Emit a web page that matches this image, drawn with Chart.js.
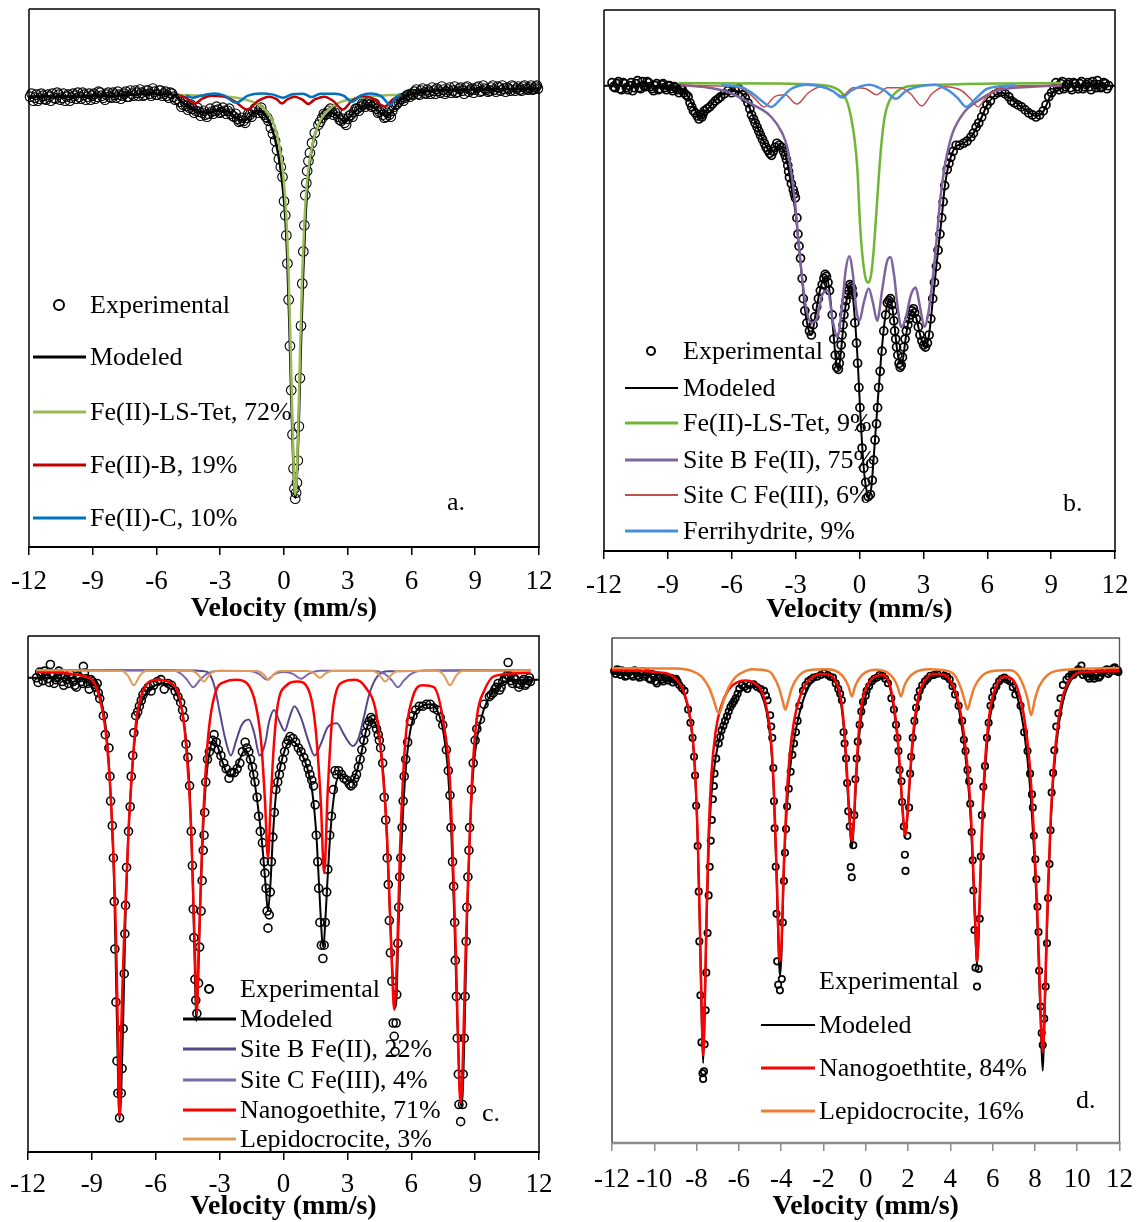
<!DOCTYPE html>
<html lang="en">
<head>
<meta charset="UTF-8">
<title>Mossbauer spectra a-d</title>
<script src="https://cdn.jsdelivr.net/npm/chart.js"></script>
<style>
    body{
        margin: 0;
        background: white;
        font-family: 'Liberation Serif', 'Times New Roman', serif;
    }
    #pagina{
        position: relative;
        width: 1146px;
        height: 1222px;
        overflow: hidden;
    }
    canvas{
        position: absolute;
    }
    .txt{
        position: absolute;
        font-size: 26px;
        line-height: 1;
        color: #000;
        white-space: nowrap;
        transform: translateY(-50%);
    }
    .traco{
        position: absolute;
        transform: translateY(-50%);
    }
    .bola{
        position: absolute;
        border: 2px solid #000;
        border-radius: 50%;
        box-sizing: border-box;
        transform: translate(-50%, -50%);
    }
</style>
</head>
<body>
<div id="pagina">
    <canvas id="graficoA" width="575" height="630" style="left:0;top:0"></canvas>
    <canvas id="graficoB" width="571" height="630" style="left:575px;top:0"></canvas>
    <canvas id="graficoC" width="575" height="592" style="left:0;top:630px"></canvas>
    <canvas id="graficoD" width="571" height="592" style="left:575px;top:630px"></canvas>
</div>
<script>
// ---------- panel a ----------
const expA = [[-11.95,99.8],[-11.8,99.6],[-11.65,99.9],[-11.5,99.7],[-11.35,99.85],[-11.2,99.65],[-11.05,99.8],[-10.9,99.95],[-10.75,99.7],[-10.6,99.9],[-10.45,99.75],[-10.3,99.6],[-10.15,99.9],[-10,99.75],[-9.85,99.85],[-9.7,100],[-9.55,99.7],[-9.4,99.9],[-9.25,99.8],[-9.1,99.65],[-8.95,99.95],[-8.8,99.8],[-8.65,100],[-8.5,99.75],[-8.35,99.9],[-8.2,99.8],[-8.05,100],[-7.9,99.75],[-7.75,99.9],[-7.6,99.85],[-7.45,100.05],[-7.3,99.8],[-7.15,99.95],[-7,100.1],[-6.85,99.85],[-6.7,100],[-6.55,99.9],[-6.4,100.1],[-6.25,99.85],[-6.1,100.05],[-5.95,99.9],[-5.8,100.1],[-5.65,99.95],[-5.5,99.85],[-5.35,100],[-5.2,99.8],[-5.05,99.7],
    [-4.9,99.55],[-4.75,99.4],[-4.6,99.35],[-4.45,99.25],[-4.3,99.2],[-4.15,99.1],[-4,99.05],[-3.85,99],[-3.7,98.9],[-3.55,98.95],[-3.4,99.05],[-3.25,99.1],[-3.1,99.15],[-2.95,99.05],[-2.8,99.1],[-2.65,99.1],[-2.5,98.95],[-2.35,98.8],[-2.2,98.7],[-2.05,98.6],[-1.9,98.6],[-1.75,98.75],[-1.6,98.9],[-1.45,99.05],[-1.3,99.2],[-1.15,99.15],[-1,99],[-0.85,98.8],[-0.73,98.6],[-0.62,98.25],[-0.52,97.95],[-0.42,97.6],[-0.33,97.15],[-0.24,96.7],[-0.15,96.3],[-0.07,95.8],[0,94.6],[0.06,93.9],[0.11,92.9],[0.16,91.5],[0.22,89.7],[0.28,87.4],[0.34,85.2],[0.4,83],[0.45,81.3],[0.49,80.3],[0.53,79.8],[0.57,80.1],[0.61,80.6],[0.65,81.7],[0.7,83.4],[0.75,85.8],[0.8,88.4],[0.86,90.5],[0.91,92.1],[0.96,93.4],[1,94.9],[1.05,95.5],[1.09,96.1],[1.15,96.6],[1.22,97],[1.32,97.5],[1.45,98],[1.62,98.4],[1.8,98.75],[1.95,98.9],[2.1,99.1],[2.25,99.05],[2.4,99],[2.55,98.8],[2.7,98.6],[2.85,98.5],[3,98.7],[3.15,98.9],[3.3,99.05],[3.45,99.2],[3.6,99.3],[3.75,99.4],[3.9,99.45],[4.05,99.4],[4.2,99.35],[4.35,99.2],[4.5,99.05],[4.65,98.9],[4.8,98.8],[4.95,98.9],[5.1,99.1],[5.25,99.4],[5.4,99.55],[5.55,99.7],[5.7,99.75],[5.85,99.9],[6,99.95],
    [6.15,100.05],[6.3,99.95],[6.45,100.1],[6.6,100],[6.75,100.15],[6.9,99.95],[7.05,100.1],[7.2,100.2],[7.35,100],[7.5,100.15],[7.65,100.05],[7.8,100.25],[7.95,100.1],[8.1,100],[8.25,100.2],[8.4,100.1],[8.55,100.25],[8.7,100.05],[8.85,100.2],[9,100.15],[9.15,100.3],[9.3,100.1],[9.45,100.2],[9.6,100.05],[9.75,100.25],[9.9,100.15],[10.05,100.3],[10.2,100.1],[10.35,100.2],[10.5,100.25],[10.65,100.1],[10.8,100.3],[10.95,100.2],[11.1,100.15],[11.25,100.3],[11.4,100.2],[11.55,100.25],[11.7,100.15],[11.85,100.3],[11.95,100.2],
    [-11.875,99.95],[-11.725,99.75],[-11.575,99.6],[-11.425,99.95],[-11.275,99.7],[-11.125,99.9],[-10.975,99.6],[-10.825,99.75],[-10.675,100],[-10.525,99.65],[-10.375,99.95],[-10.225,99.8],[-10.075,99.6],[-9.925,99.95],[-9.775,99.7],[-9.625,99.8],[-9.475,100],[-9.325,99.65],[-9.175,99.95],[-9.025,99.85],[-8.875,99.7],[-8.725,100.05],[-8.575,99.85],[-8.425,99.65],[-8.275,100],[-8.125,99.75],[-7.975,99.9],[-7.825,100.05],[-7.675,99.7],[-7.525,99.95],[-7.375,99.8],[-7.225,100.1],[-7.075,99.85],[-6.925,100],[-6.775,100.15],[-6.625,99.85],[-6.475,100.1],[-6.325,99.95],[-6.175,100.2],[-6.025,99.9],[-5.875,100.1],[-5.725,99.85],[-5.575,100.05],[-5.425,99.75],[-5.275,99.95],[-5.125,99.65],
    [-4.825,99.3],[-4.675,99.55],[-4.525,99.15],[-4.375,99.4],[-4.225,99],[-4.075,99.25],[-3.925,98.85],[-3.775,99.1],[-3.625,98.8],[-3.475,99.2],[-3.325,98.95],[-3.175,99.3],[-3.025,99],[-2.875,99.25],[-2.725,98.95],[-2.575,99.2],[-2.425,98.85],[-2.275,98.95],[-2.125,98.55],[-1.975,98.75],[-1.825,98.5],[-1.675,98.95],[-1.525,98.8],[-1.375,99.2],[-1.225,99],[-1.075,99.25],[-0.925,98.9],[-0.79,98.75],
    [1.7,98.55],[1.875,98.95],[2.025,98.95],[2.175,99.2],[2.325,98.9],[2.475,99.1],[2.625,98.65],[2.775,98.7],[2.925,98.4],[3.075,98.85],[3.225,98.8],[3.375,99.2],[3.525,99.1],[3.675,99.45],[3.825,99.3],[3.975,99.55],[4.125,99.3],[4.275,99.45],[4.425,99],[4.575,99.15],[4.725,98.75],[4.875,99],[5.025,98.8],[5.175,99.3],[5.325,99.45],[5.475,99.7],[5.625,99.6],[5.775,99.85],[5.925,99.8],
    [6.075,99.9],[6.225,100.15],[6.375,99.9],[6.525,100.2],[6.675,99.95],[6.825,100.05],[6.975,100.25],[7.125,99.95],[7.275,100.1],[7.425,100.3],[7.575,99.95],[7.725,100.15],[7.875,100],[8.025,100.3],[8.175,100.05],[8.325,100.25],[8.475,99.95],[8.625,100.3],[8.775,100.15],[8.925,100],[9.075,100.25],[9.225,100.05],[9.375,100.35],[9.525,100.15],[9.675,100.1],[9.825,100.35],[9.975,100.05],[10.125,100.25],[10.275,100.35],[10.425,100.05],[10.575,100.2],[10.725,100.35],[10.875,100.1],[11.025,100.3],[11.175,100.1],[11.325,100.35],[11.475,100.15],[11.625,100.35],[11.775,100.2],[11.9,100.35]];
const modA = [[-12,99.8],[-8,99.85],[-6,99.95],[-5.2,99.9],[-4.9,99.6],[-4.5,99.3],[-4.2,99.15],[-3.8,99],[-3.5,99],[-3.2,99.1],[-2.9,99.1],[-2.6,99.05],[-2.3,98.8],[-2,98.62],[-1.8,98.65],[-1.5,98.95],[-1.25,99.1],[-1,99],[-0.8,98.75],[-0.6,98.3],[-0.4,97.6],[-0.2,96.5],[-0.05,95.2],[0.05,94],[0.15,91.9],[0.25,88.6],[0.35,84.6],[0.45,81.2],[0.53,79.85],[0.6,80.8],[0.7,83.8],[0.8,87.6],[0.9,91],[1,93.6],[1.1,95.3],[1.25,96.8],[1.45,97.9],[1.7,98.5],[2,98.9],[2.3,99],[2.6,98.75],[2.85,98.55],[3.1,98.8],[3.5,99.2],[3.9,99.4],[4.3,99.25],[4.6,98.95],[4.85,98.85],[5.1,99.1],[5.4,99.55],[5.8,99.85],[6.5,100.05],[9,100.15],[12,100.2]];
const lsTetA = [[-4.9,99.88],[-3.5,99.84],[-2.5,99.78],[-2,99.7],[-1.5,99.55],[-1,99.25],[-0.6,98.75],[-0.35,98],[-0.15,96.9],[0,95.5],[0.1,94],[0.2,91.6],[0.3,87.9],[0.4,83.6],[0.48,80.6],[0.53,80],[0.58,80.5],[0.66,83],[0.76,87.3],[0.86,91],[0.96,93.6],[1.08,95.5],[1.2,96.6],[1.4,97.7],[1.7,98.6],[2.1,99.15],[2.6,99.5],[3.3,99.7],[4.2,99.82],[5.5,99.9]];
const fe2bA = [[-4.9,99.86],[-4.55,99.7],[-4.2,99.45],[-3.85,99.7],[-3.4,99.84],[-2.8,99.8],[-2.3,99.55],[-1.74,99.16],[-1.2,99.6],[-0.7,99.8],[-0.35,99.68],[-0.1,99.46],[0.15,99.66],[0.5,99.8],[0.85,99.66],[1.15,99.44],[1.45,99.66],[1.9,99.8],[2.3,99.6],[2.77,99.16],[3.2,99.6],[3.7,99.82],[4.2,99.7],[4.73,99.3],[5.1,99.65],[5.5,99.86]];
const fe2cA = [[-4.6,99.86],[-4.3,99.75],[-3.9,99.85],[-3.3,99.96],[-2.8,99.85],[-2.25,99.5],[-1.7,99.85],[-1.1,99.96],[-0.5,99.9],[-0.05,99.75],[0.4,99.92],[0.9,99.95],[1.3,99.78],[1.7,99.95],[2.4,99.95],[2.8,99.85],[3.2,99.55],[3.6,99.85],[4.1,99.96],[4.6,99.8],[5,99.4],[5.3,99.8],[5.5,99.88]];

// ---------- panel b ----------
const expB = [[-11.55,99.9],[-11.4,100.05],[-11.25,99.8],[-11.1,100.1],[-10.95,99.85],[-10.8,99.95],[-10.65,99.7],[-10.5,100.05],[-10.35,99.85],[-10.2,100.15],[-10.05,99.9],[-9.9,100.1],[-9.75,99.8],[-9.6,99.95],[-9.45,99.75],[-9.3,100],[-9.15,99.85],[-9,99.95],[-8.85,99.8],[-8.7,99.9],[-8.55,99.75],[-8.4,99.8],[-8.25,99.6],
    [-8.05,99.4],[-7.88,98.9],[-7.71,98.6],[-7.54,98.3],[-7.4,98.4],[-7.29,98.7],[-7.03,98.9],[-6.77,99.2],[-6.52,99.4],[-6.18,99.7],[-5.84,99.7],[-5.5,99.5],[-5.24,99.1],[-5.07,98.5],[-4.9,98.1],[-4.73,97.7],[-4.56,97.3],[-4.39,96.9],[-4.22,96.6],[-4.05,96.7],[-3.88,97.1],[-3.66,96.9],[-3.49,96.5],[-3.37,96],[-3.29,95.4],[-3.11,94.8],[-3.01,94.4],[-2.94,93.4],[-2.89,92.6],[-2.84,92],[-2.77,91.4],[-2.69,90.4],[-2.64,89.4],[-2.57,88.8],[-2.47,88.2],[-2.35,87.8],[-2.26,87.6],[-2.18,88.1],[-2.01,89],[-1.84,89.8],[-1.67,90.4],[-1.55,90.5],[-1.41,89.8],[-1.28,88.6],[-1.21,87.4],[-1.14,86.6],[-1.07,86],[-0.99,85.9],[-0.9,86.6],[-0.82,87.6],[-0.73,88.6],[-0.63,89.3],[-0.51,89.8],[-0.39,90],[-0.31,89.6],[-0.22,88.2],[-0.14,87.2],[-0.09,86.2],[-0.03,85],[0.02,84],[0.07,83],[0.12,82],[0.2,81],[0.29,80.3],[0.41,79.6],[0.51,79.7],[0.6,80.4],[0.66,81.4],[0.73,82.4],[0.8,83.2],[0.85,84],[0.9,85],[0.97,85.8],[1.06,86.8],[1.14,87.8],[1.23,88.6],[1.31,89.2],[1.45,89.4],[1.57,88.8],[1.65,87.8],[1.74,87],[1.86,86.2],[1.96,86.1],[2.08,87],[2.2,87.8],[2.33,88.4],[2.47,88.8],[2.59,88.7],[2.76,88],[2.93,87.3],[3.1,87],[3.27,87.6],[3.35,88.4],[3.44,89.4],[3.52,90.2],[3.61,91],[3.69,91.8],[3.78,92.6],[3.86,93.4],[3.93,94.2],[4,95],[4.12,95.8],[4.29,96.4],[4.54,97],[4.89,97.1],[5.23,97.4],[5.48,97.9],[5.74,98.4],[5.99,99],[6.33,99.5],[6.67,99.65],[7.01,99.4],[7.27,99.1],[7.61,98.9],[7.95,98.6],[8.29,98.4],[8.63,98.7],[8.89,99.4],[9.14,99.8],
    [9.3,99.9],[9.45,100.05],[9.6,99.8],[9.75,100],[9.9,99.85],[10.05,100.1],[10.2,99.9],[10.35,100.05],[10.5,99.8],[10.65,100],[10.8,99.9],[10.95,100.15],[11.1,99.85],[11.25,100],[11.4,99.9],[11.55,100.05],[11.7,99.95],
    [-11.625,100.1],[-11.475,99.85],[-11.325,100.15],[-11.175,99.75],[-11.025,100.05],[-10.875,99.75],[-10.725,100.1],[-10.575,99.85],[-10.425,100.2],[-10.275,99.8],[-10.125,99.95],[-9.975,100.15],[-9.825,99.9],[-9.675,99.7],[-9.525,100.05],[-9.375,99.8],[-9.225,100.05],[-9.075,99.75],[-8.925,99.95],[-8.775,99.7],[-8.625,99.85],[-8.475,99.6],[-8.325,99.75],[-8.15,99.5],
    [-7.96,99.1],[-7.8,98.7],[-7.62,98.45],[-7.47,98.5],[-7.35,98.55],[-7.16,98.8],[-6.9,99.05],[-6.64,99.3],[-6.35,99.55],[-6.01,99.6],[-5.67,99.8],[-5.37,99.35],[-5.15,98.8],[-4.98,98.3],[-4.81,97.9],[-4.65,97.5],[-4.47,97.1],[-4.3,96.75],[-4.13,96.5],[-3.96,96.9],[-3.77,97],[-3.57,96.7],[-3.43,96.3],[-3.33,95.7],[-3.2,95.1],[-3.06,94.6],
    [-2.1,88.5],[-1.93,89.4],[-1.75,90.1],[-1.61,90.6],[-1.48,90.2],[-0.95,86.2],[-0.86,87.1],[-0.77,88.1],[-0.68,89],[-0.57,89.6],[-0.45,90.1],[-0.35,89.9],[1.38,89.3],[1.51,89.1],[1.61,88.3],[1.7,87.4],[1.8,86.6],[1.91,86],[2.02,86.5],[2.14,87.4],[2.27,88.1],[2.4,88.6],[2.53,88.9],[2.67,88.4],[2.84,87.6],[3.01,87.1],[3.19,87.2],
    [4.2,96.1],[4.4,96.7],[4.7,97],[5.05,97.2],[5.35,97.6],[5.6,98.1],[5.86,98.7],[6.15,99.2],[6.5,99.6],[6.84,99.55],[7.14,99.2],[7.44,99],[7.78,98.75],[8.12,98.5],[8.46,98.5],[8.76,99],[9.02,99.6],
    [9.225,100.1],[9.375,99.75],[9.525,100.15],[9.675,99.9],[9.825,100.1],[9.975,99.75],[10.125,100.05],[10.275,99.8],[10.425,100.15],[10.575,99.9],[10.725,100.1],[10.875,99.75],[11.025,100],[11.175,100.2],[11.325,99.85],[11.475,100.1],[11.625,99.8]];
const modB = [[-12,99.95],[-8.5,99.9],[-8.1,99.5],[-7.8,98.9],[-7.5,98.4],[-7.2,98.7],[-6.8,99.2],[-6.3,99.6],[-5.8,99.7],[-5.4,99.4],[-5.1,98.7],[-4.8,97.9],[-4.5,97.2],[-4.2,96.7],[-4,96.75],[-3.8,97],[-3.6,96.8],[-3.4,96.2],[-3.2,95],[-3,93.6],[-2.85,92],[-2.7,90.4],[-2.55,88.8],[-2.4,87.9],[-2.26,87.6],[-2.1,88.4],[-1.9,89.6],[-1.7,90.4],[-1.55,90.5],[-1.4,89.7],[-1.25,88],[-1.1,86.3],[-0.99,85.9],[-0.85,87],[-0.7,88.7],[-0.5,89.8],[-0.38,90],[-0.25,88.8],[-0.1,86.6],[0.05,83.5],[0.2,81],[0.35,79.8],[0.45,79.6],[0.55,80],[0.7,82],[0.85,84.2],[1,86.3],[1.15,88],[1.3,89.1],[1.45,89.4],[1.6,88.5],[1.75,87],[1.9,86.2],[2,86.2],[2.15,87.3],[2.3,88.3],[2.47,88.8],[2.65,88.5],[2.85,87.6],[3.05,87],[3.25,87.5],[3.45,89.4],[3.65,91.4],[3.85,93.3],[4,94.9],[4.2,96.1],[4.5,96.9],[4.9,97.1],[5.3,97.5],[5.7,98.3],[6,99],[6.4,99.5],[6.7,99.6],[7.1,99.3],[7.6,98.9],[8,98.6],[8.3,98.45],[8.65,98.7],[8.95,99.4],[9.3,99.85],[12,99.95]];
const lsTetB = [[-8.5,100.08],[-4,100.06],[-2,100],[-1,99.75],[-0.6,99.2],[-0.4,98.4],[-0.22,97.2],[-0.1,95.8],[0.03,93],[0.15,91.4],[0.29,90.4],[0.41,90.2],[0.53,90.5],[0.65,91.6],[0.8,93.8],[0.93,95.8],[1.06,97.4],[1.2,98.5],[1.4,99.2],[1.8,99.7],[2.5,99.95],[9.5,100.08]];
const siteBB = [[-8.39,100],[-6.35,99.7],[-4.99,99],[-4.14,98.4],[-3.63,97.6],[-3.37,96.8],[-3.2,95.6],[-3.03,94.2],[-2.86,92.2],[-2.69,90.4],[-2.52,89],[-2.26,88.2],[-2.01,88.4],[-1.75,89.6],[-1.5,89.8],[-1.24,88.2],[-1.04,87.5],[-0.82,89],[-0.65,90.8],[-0.48,91.5],[-0.31,90.6],[-0.14,88.8],[0,88.3],[0.2,89.2],[0.43,89.9],[0.63,89.2],[0.83,88.3],[1.06,89.8],[1.28,91.2],[1.45,91.45],[1.62,90.6],[1.79,89],[1.96,88],[2.16,88.4],[2.42,89.6],[2.64,89.95],[2.84,89],[3.05,88],[3.22,88.6],[3.44,90.4],[3.61,92.2],[3.78,94.2],[3.95,95.6],[4.12,96.6],[4.37,97.6],[4.89,98.6],[5.57,99.2],[6.42,99.7],[8.12,99.9],[9.48,99.96]];
const siteCB = [[-8.4,99.96],[-6.5,99.94],[-5.5,99.8],[-4.9,99.3],[-4.48,98.9],[-4,99.4],[-3.5,99.5],[-2.94,99.04],[-2.4,99.6],[-1.8,99.9],[-1.3,99.7],[-0.82,99.44],[-0.3,99.85],[0.3,99.8],[0.8,99.5],[1.3,99.85],[1.9,99.85],[2.4,99.55],[2.93,98.95],[3.4,99.55],[4,99.9],[4.8,99.7],[5.3,99.2],[5.57,98.9],[5.9,99.3],[6.5,99.8],[7.5,99.95],[9.5,99.96]];
const ferriB = [[-6.5,99.97],[-5.6,99.9],[-5,99.55],[-4.6,99.2],[-4.14,98.9],[-3.7,99.3],[-3.2,99.8],[-2.43,100],[-1.6,99.85],[-1.2,99.65],[-0.82,99.36],[-0.4,99.7],[0.46,100],[1.2,99.7],[1.7,99.3],[2.2,99.7],[3.52,100],[4.2,99.7],[4.6,99.35],[5.02,98.9],[5.45,99.3],[6,99.8],[7.3,99.97]];

// ---------- panel c ----------
const expC = [[-11.6,99.6],[-11.45,99.9],[-11.3,99.45],[-11.15,99.75],[-11,99.35],[-10.95,100.3],[-10.85,99.8],[-10.7,99.5],[-10.55,99.95],[-10.4,99.4],[-10.25,99.65],[-10.1,99.3],[-9.95,99.55],[-9.8,99.2],[-9.65,99.7],[-9.5,99.4],[-9.4,100.2],[-9.35,99.85],[-9.2,99.3],[-9.05,99.5],[-8.9,99.25],[-8.75,99.3],
    [-8.63,98.5],[-8.46,97.6],[-8.37,96.6],[-8.2,95.9],[-8.15,94.4],[-8.12,93.1],[-8.04,91.8],[-7.99,90.1],[-7.95,87.8],[-7.92,85.3],[-7.87,82.5],[-7.82,79.4],[-7.78,77.7],[-7.7,76.4],[-7.62,77.7],[-7.58,79],[-7.53,81.1],[-7.48,84],[-7.45,86.1],[-7.42,87.6],[-7.37,89.6],[-7.28,91.5],[-7.2,92.8],[-7.15,94.4],[-7.08,95.5],[-7.03,96.7],[-6.94,97.6],[-6.77,98.1],[-6.6,98.7],[-6.35,99.1],[-6.1,99.2],[-5.76,99.5],[-5.42,99.3],[-5.09,98.9],[-4.83,98.3],[-4.66,97.5],[-4.58,96.1],[-4.49,95.4],[-4.41,93.9],[-4.33,91.5],[-4.28,89.7],[-4.24,87.4],[-4.21,85.9],[-4.16,83.7],[-4.12,82.6],[-4.07,81.9],[-3.99,83.5],[-3.94,85.4],[-3.87,87.3],[-3.82,88.9],[-3.77,90.5],[-3.73,91.3],[-3.7,92.5],[-3.65,94.1],[-3.57,95.3],[-3.4,96],[-3.26,96.6],[-3.06,95.8],[-2.81,95.1],[-2.56,94.3],[-2.31,94.6],[-2.05,95.1],[-1.8,96.2],[-1.63,95.7],[-1.46,94.9],[-1.34,94.1],[-1.24,93.3],[-1.17,92.3],[-1.09,91.5],[-0.99,90.9],[-0.9,89.9],[-0.87,89.3],[-0.82,88.5],[-0.77,87.3],[-0.73,86.4],[-0.67,87.1],[-0.62,88.3],[-0.57,89.9],[-0.5,91.2],[-0.43,92.5],[-0.36,93.7],[-0.19,94.5],[-0.03,95.3],[0.14,96.1],[0.31,96.5],[0.57,96.2],[0.82,95.7],[1.07,95.1],[1.24,94.5],[1.41,93.9],[1.49,92.9],[1.54,91.3],[1.61,89.9],[1.65,88.5],[1.71,86.7],[1.78,85.5],[1.85,84.8],[1.91,85.5],[1.96,86.7],[2.03,88.3],[2.08,89.5],[2.17,91.3],[2.25,92.3],[2.34,93.7],[2.42,94.7],[2.59,94.7],[2.84,94.3],[3.09,94],[3.26,94],[3.43,94.5],[3.6,95.3],[3.77,96.3],[3.94,97.1],[4.11,97.5],[4.28,97.2],[4.45,96.6],[4.56,95.9],[4.66,95.1],[4.73,93.3],[4.8,92.1],[4.87,90.1],[4.92,88.7],[4.97,86.8],[5.02,85.1],[5.09,83.6],[5.15,81.4],[5.2,80.7],[5.24,79.9],[5.29,81.4],[5.32,82.9],[5.37,85.6],[5.41,87.5],[5.46,89.1],[5.51,90.1],[5.57,91.7],[5.62,93.1],[5.67,94.4],[5.74,95.3],[5.83,96.2],[5.96,97.3],[6.21,97.9],[6.55,98.1],[6.89,98.2],[7.23,97.9],[7.48,97.1],[7.65,95.8],[7.74,94.7],[7.82,93.4],[7.87,91.7],[7.94,89.9],[7.99,88.6],[8.04,86.7],[8.07,84.7],[8.12,82.8],[8.16,80.6],[8.21,78.7],[8.24,77.1],[8.32,76.2],[8.41,77.1],[8.44,78.7],[8.49,80.6],[8.53,82.8],[8.58,85.7],[8.61,87.5],[8.66,89.1],[8.71,90.5],[8.74,91.7],[8.83,93.7],[8.91,95.1],[9,96.3],[9.08,96.9],[9.25,97.4],[9.42,98.2],[9.67,98.6],
    [9.85,98.8],[10,99.1],[10.15,98.95],[10.3,99.4],[10.45,99.6],[10.55,100.4],[10.6,99.7],[10.75,99.3],[10.9,99.5],[11.05,99.1],[11.2,99.4],[11.35,99.2],[11.5,99.45],[11.6,99.4],
    [-11.525,99.35],[-11.375,99.7],[-11.225,99.95],[-11.075,99.55],[-10.925,99.8],[-10.775,99.3],[-10.625,99.6],[-10.475,99.75],[-10.325,99.2],[-10.175,99.5],[-10.025,99.8],[-9.875,99.4],[-9.725,99.1],[-9.575,99.6],[-9.425,99.3],[-9.275,99.55],[-9.125,99],[-8.975,99.4],[-8.825,99.1],[-8.7,98.8],
    [-6.85,97.8],[-6.68,98.4],[-6.48,98.9],[-6.22,98.9],[-5.93,99.4],[-5.6,99],[-5.26,99.2],[-4.96,98.6],[-4.74,97.9],
    [-3.48,95.7],[-3.33,96.3],[-3.16,96.2],[-2.94,95.5],[-2.69,94.8],[-2.44,94.6],[-2.18,94.8],[-1.93,95.7],[-1.72,95.9],[-1.55,95.3],[-1.4,94.5],
    [-0.27,94.1],[-0.11,94.9],[0.05,95.7],[0.22,96.3],[0.44,96.4],[0.7,95.9],[0.95,95.4],[1.16,94.8],[1.33,94.2],
    [2.5,94.5],[2.72,94.5],[2.97,94.2],[3.17,93.9],[3.35,94.3],[3.52,94.9],[3.68,95.8],[3.86,96.7],[4.02,97.3],[4.2,97.4],[4.37,96.9],[4.5,96.3],
    [6.08,97.6],[6.38,98.1],[6.72,98.2],[7.06,98],[7.36,97.5],
    [9.75,98.7],[9.93,99],[10.08,99.3],[10.22,99.1],[10.38,99.55],[10.52,99.75],[10.68,99.45],[10.82,99.6],[10.98,99.3],[11.12,99.25],[11.28,99.5],[11.42,99.3],[11.55,99.6]];
const modC = [[-12,99.6],[-9,99.5],[-8.6,98.6],[-8.3,96.5],[-8.1,93],[-7.95,88.5],[-7.85,83],[-7.75,77.5],[-7.7,76.3],[-7.62,77.8],[-7.52,82],[-7.42,87],[-7.3,91],[-7.15,94],[-7,96.2],[-6.8,97.8],[-6.5,98.7],[-6.1,99.15],[-5.7,99.3],[-5.3,99.2],[-5,98.7],[-4.75,97.8],[-4.55,96],[-4.4,93.5],[-4.28,89.5],[-4.18,85],[-4.1,81.5],[-4,84],[-3.9,88],[-3.78,91.5],[-3.65,94],[-3.5,95.5],[-3.3,96.3],[-3.1,96],[-2.85,95.1],[-2.55,94.4],[-2.3,94.6],[-2.05,95.3],[-1.8,95.8],[-1.6,95.4],[-1.4,94.4],[-1.2,92.8],[-1,90.8],[-0.85,88.8],[-0.73,87.3],[-0.62,88.6],[-0.5,91.2],[-0.35,93.5],[-0.15,94.9],[0.1,95.9],[0.35,96.3],[0.6,96.1],[0.85,95.6],[1.1,94.9],[1.35,93.6],[1.55,91.2],[1.7,88],[1.82,85.7],[1.88,85.4],[1.95,86.5],[2.05,88.6],[2.2,91.4],[2.4,93.6],[2.65,94.5],[2.9,94.3],[3.15,94.1],[3.4,94.5],[3.65,95.6],[3.9,96.9],[4.15,97.4],[4.4,96.9],[4.6,95.6],[4.78,93],[4.95,88.5],[5.1,84.5],[5.22,82.2],[5.3,82.6],[5.4,86.5],[5.52,90.2],[5.68,93.8],[5.85,96],[6.1,97.5],[6.5,98.1],[6.9,98.2],[7.25,97.8],[7.5,96.8],[7.7,95],[7.88,91.5],[8.02,87],[8.15,82],[8.27,78.2],[8.34,77],[8.42,77.8],[8.52,81.8],[8.62,86.8],[8.75,91.3],[8.9,94.5],[9.1,96.5],[9.4,97.9],[9.8,98.8],[10.4,99.4],[12,99.5]];
const siteBC = [[-11.6,100],[-4.2,99.98],[-3.57,99.9],[-3.23,99.1],[-2.98,97.7],[-2.72,96.3],[-2.47,95.5],[-2.22,96.3],[-1.97,97.1],[-1.63,97.4],[-1.38,96.7],[-1.12,95.5],[-0.87,96.1],[-0.67,97.3],[-0.45,97.9],[-0.19,97.3],[0.06,96.8],[0.28,97.5],[0.51,98.1],[0.82,97.5],[1.16,96.3],[1.46,95.5],[1.75,96.1],[2.08,97],[2.51,97.2],[2.84,96.6],[3.26,96],[3.52,96.4],[3.77,97.5],[4.02,98.7],[4.36,99.6],[4.87,99.94],[11.6,100]];
const siteCC = [[-11.6,100],[-5.2,99.98],[-4.8,99.8],[-4.5,99.45],[-4.24,99.1],[-3.95,99.45],[-3.6,99.8],[-3,99.97],[-1.6,99.95],[-1.15,99.8],[-0.78,99.5],[-0.4,99.8],[0,99.9],[0.45,99.8],[0.82,99.54],[1.2,99.82],[1.7,99.97],[4.2,99.97],[4.75,99.8],[5.1,99.45],[5.37,99.1],[5.65,99.45],[6,99.8],[6.6,99.98],[11.6,100]];
const goetC = [[-11.58,99.9],[-9.13,99.6],[-8.63,98.5],[-8.29,96.1],[-8.04,91.7],[-7.87,86.1],[-7.78,81.1],[-7.7,76.5],[-7.62,81.1],[-7.48,86.1],[-7.28,91.5],[-6.94,97.1],[-6.6,98.9],[-5.93,99.5],[-5.25,99.3],[-4.83,98.3],[-4.58,96.1],[-4.33,91.5],[-4.16,85.1],[-4.07,81.9],[-3.99,85.1],[-3.82,90.9],[-3.57,96.1],[-3.23,98.7],[-2.72,99.4],[-2.22,99.5],[-1.71,99.3],[-1.29,98.1],[-1.04,96.1],[-0.87,93.1],[-0.73,90.1],[-0.6,93.1],[-0.45,96.1],[-0.28,98.1],[0.14,99.2],[0.65,99.4],[1.16,99],[1.49,97.1],[1.75,93.1],[1.91,89.3],[2.08,93.7],[2.34,98.1],[2.84,99.4],[3.35,99.5],[3.85,99.1],[4.36,97.7],[4.61,95.3],[4.87,91.1],[5.07,85.1],[5.2,82.1],[5.34,85.1],[5.46,90.1],[5.71,96.1],[6.05,98.5],[6.55,99.2],[7.06,99.1],[7.56,96.9],[7.82,94.1],[8.07,86.1],[8.32,77.2],[8.58,86.1],[8.83,93.7],[9.08,97.5],[9.42,98.9],[9.93,99.7],[11.61,99.86]];
const lepiC = [[-11.6,100],[-7.6,99.95],[-7.3,99.7],[-7.03,99.2],[-6.75,99.7],[-6.45,99.95],[-4.3,99.95],[-4,99.75],[-3.74,99.4],[-3.48,99.75],[-3.2,99.95],[-1.25,99.96],[-0.95,99.8],[-0.7,99.5],[-0.45,99.8],[-0.15,99.96],[1.15,99.96],[1.45,99.82],[1.71,99.6],[1.97,99.82],[2.27,99.96],[4.2,99.95],[4.5,99.75],[4.78,99.4],[5.06,99.75],[5.35,99.95],[7.25,99.95],[7.55,99.7],[7.82,99.2],[8.1,99.7],[8.4,99.95],[11.6,100]];

// ---------- panel d ----------
const expD = [[-11.9,99.9],[-11.75,100],[-11.6,99.7],[-11.45,99.85],[-11.3,99.65],[-11.15,99.9],[-11,99.6],[-10.85,99.8],[-10.7,99.55],[-10.55,99.9],[-10.4,99.7],[-10.25,99.5],[-10.1,99.75],[-9.95,99.35],[-9.8,99.6],[-9.65,99.45],[-9.5,99.6],[-9.35,99.4],[-9.2,99.55],[-9.05,99.45],[-8.9,99.35],
    [-8.82,99.16],[-8.57,98.86],[-8.4,97.86],[-8.29,97.16],[-8.19,96.36],[-8.12,95.36],[-8.07,94.36],[-8.02,92.76],[-7.95,90.62],[-7.9,88.2],[-7.87,85.56],[-7.82,82.7],[-7.77,80.2],[-7.72,78.56],[-7.69,78.26],[-7.65,78.66],[-7.62,80.1],[-7.57,81.9],[-7.54,83.9],[-7.48,86],[-7.43,88],[-7.38,89.52],[-7.33,90.9],[-7.28,92],[-7.23,93.1],[-7.18,93.8],[-7.15,94.46],[-7.07,95.26],[-6.95,96.06],[-6.82,96.76],[-6.65,97.26],[-6.48,97.76],[-6.31,98.16],[-6.15,98.46],[-5.98,98.96],[-5.73,99.06],[-5.48,99.16],[-5.14,99.06],[-4.81,98.86],[-4.64,98.36],[-4.52,97.56],[-4.47,96.96],[-4.42,96.36],[-4.37,94.76],[-4.34,93],[-4.31,91.56],[-4.26,89.52],[-4.22,87.02],[-4.19,84.5],[-4.14,83.26],[-4.06,82.96],[-3.97,83.56],[-3.92,86.56],[-3.87,88.76],[-3.82,90.26],[-3.77,91.52],[-3.72,92.72],[-3.64,93.66],[-3.55,94.56],[-3.47,95.46],[-3.39,96.06],[-3.3,96.66],[-3.22,97.26],[-3.14,98.06],[-2.97,98.86],[-2.72,99.36],[-2.47,99.56],[-2.13,99.7],[-1.8,99.7],[-1.55,99.56],[-1.3,98.96],[-1.13,98.36],[-1.05,96.66],[-1,96.06],[-0.93,95.26],[-0.88,93.96],[-0.83,92.46],[-0.76,91.66],[-0.71,89.5],[-0.66,88.96],[-0.59,90.66],[-0.54,92.26],[-0.49,94.16],[-0.43,95.26],[-0.38,96.16],[-0.29,97.06],[-0.21,97.76],[-0.13,98.26],[0.04,98.86],[0.29,99.36],[0.54,99.56],[0.79,99.66],[1.05,99.26],[1.21,98.46],[1.33,97.86],[1.43,97.06],[1.5,96.36],[1.55,95.66],[1.6,94.66],[1.69,94.06],[1.72,92.96],[1.8,91.66],[1.85,90.16],[1.88,89.3],[1.97,91.16],[2.05,92.66],[2.1,94.46],[2.15,95.36],[2.22,96.36],[2.3,97.26],[2.38,97.96],[2.55,98.86],[2.8,99.36],[3.05,99.66],[3.39,99.76],[3.72,99.66],[3.97,99.46],[4.22,98.66],[4.39,98.06],[4.56,97.26],[4.64,96.26],[4.72,95.66],[4.81,94.66],[4.89,94.06],[4.94,92.86],[5.01,91.36],[5.06,89.86],[5.09,88.26],[5.14,86.16],[5.19,84.16],[5.26,83.16],[5.34,84.1],[5.39,86.76],[5.44,90.06],[5.49,92.26],[5.56,93.76],[5.64,94.86],[5.73,96.36],[5.81,97.16],[5.9,98.06],[6.06,98.86],[6.31,99.36],[6.56,99.56],[6.82,99.36],[7.07,98.66],[7.32,98.06],[7.49,96.66],[7.65,95.66],[7.77,94.46],[7.86,93.36],[7.9,92.66],[7.95,91.16],[8.02,89.92],[8.07,88.86],[8.12,87.4],[8.17,86.06],[8.2,84],[8.27,82.1],[8.32,80.7],[8.37,80.06],[8.44,81.46],[8.51,83.16],[8.57,85.46],[8.62,87.86],[8.69,89.66],[8.74,91.46],[8.79,93.46],[8.86,94.5],[8.92,95.7],[9.01,96.96],[9.11,97.66],[9.21,98.46],[9.32,99.16],[9.49,99.46],[9.74,99.76],
    [9.9,99.8],[10.05,100],[10.2,100.2],[10.35,99.85],[10.5,99.6],[10.65,99.75],[10.8,99.5],[10.95,99.8],[11.1,99.65],[11.25,99.9],[11.4,100],[11.55,99.85],[11.7,100.05],[11.85,99.9],[11.95,99.85],
    [-11.825,99.75],[-11.675,99.85],[-11.525,99.95],[-11.375,99.6],[-11.225,99.8],[-11.075,99.7],[-10.925,99.95],[-10.775,99.65],[-10.625,99.75],[-10.475,99.6],[-10.325,99.8],[-10.175,99.45],[-10.025,99.6],[-9.875,99.25],[-9.725,99.55],[-9.575,99.35],[-9.425,99.5],[-9.275,99.55],[-9.125,99.3],[-8.975,99.5],[-8.7,99],
    [-6.88,96.4],[-6.73,97],[-6.56,97.5],[-6.4,98],[-6.23,98.3],[-6.06,98.7],[-5.85,99.15],[-5.6,98.95],[-5.3,99.2],[-4.97,98.95],[-4.72,98.6],
    [-2.85,99.15],[-2.6,99.45],[-2.3,99.6],[-1.97,99.8],[-1.68,99.6],[-1.42,99.25],[-1.21,98.7],
    [0,98.6],[0.16,99.1],[0.41,99.5],[0.66,99.7],[0.92,99.5],
    [2.46,98.5],[2.67,99.15],[2.92,99.5],[3.22,99.7],[3.55,99.8],[3.85,99.6],[4.1,99.1],
    [5.98,98.5],[6.18,99.1],[6.43,99.5],[6.69,99.45],[6.95,99.05],
    [9.6,99.6],[9.82,99.7],[9.97,99.85],[10.12,99.95],[10.27,99.7],[10.42,99.75],[10.57,99.5],[10.72,99.6],[10.87,99.7],[11.02,99.55],[11.17,99.8],[11.32,99.95],[11.47,99.75],[11.62,99.95],[11.77,100.1],[11.92,99.95]];
const modD = [[-12,99.8],[-9.5,99.7],[-9,99.4],[-8.6,98.7],[-8.3,97.3],[-8.1,95],[-7.95,91],[-7.85,86.5],[-7.77,82],[-7.69,79.1],[-7.61,82],[-7.53,86.5],[-7.43,90.5],[-7.3,93.3],[-7.1,95.3],[-6.85,96.6],[-6.5,97.7],[-6.1,98.6],[-5.7,99.05],[-5.3,99.1],[-4.95,98.7],[-4.7,97.8],[-4.5,96.2],[-4.35,93.5],[-4.22,89],[-4.12,85],[-4.06,83.7],[-3.98,85],[-3.88,89],[-3.75,92.3],[-3.6,94.5],[-3.4,96.2],[-3.15,97.6],[-2.85,98.7],[-2.5,99.4],[-2.1,99.7],[-1.7,99.65],[-1.4,99.2],[-1.2,98.4],[-1.02,96.6],[-0.88,94],[-0.76,91.8],[-0.66,90.5],[-0.56,91.8],[-0.45,94.2],[-0.32,96.3],[-0.15,97.9],[0.1,98.9],[0.4,99.45],[0.8,99.65],[1.1,99.2],[1.3,98.1],[1.5,96.3],[1.65,94],[1.78,91.9],[1.86,91.1],[1.95,91.9],[2.08,94],[2.25,96.4],[2.5,98.3],[2.8,99.2],[3.2,99.7],[3.7,99.65],[4,99.3],[4.3,98.4],[4.55,96.9],[4.75,95],[4.95,92.3],[5.1,88.5],[5.2,85.5],[5.26,84.3],[5.33,85.5],[5.43,89],[5.55,92.8],[5.7,95.5],[5.9,97.6],[6.2,98.9],[6.55,99.45],[6.9,99.2],[7.2,98.4],[7.5,96.6],[7.75,94],[7.95,90.5],[8.1,87],[8.22,83],[8.31,80],[8.37,78.7],[8.43,80.5],[8.52,84],[8.62,88],[8.75,91.8],[8.9,94.6],[9.1,96.8],[9.35,98.4],[9.7,99.4],[10.2,99.8],[12,99.85]];
const goetD = [[-12,99.95],[-9.5,99.8],[-9,99.5],[-8.6,98.8],[-8.3,97.4],[-8.1,95.2],[-7.95,91.2],[-7.85,86.8],[-7.77,82.5],[-7.69,79.5],[-7.61,82.5],[-7.53,87],[-7.43,91.2],[-7.3,94.4],[-7.1,96.7],[-6.85,98],[-6.5,98.9],[-6.1,99.3],[-5.7,99.4],[-5.3,99.3],[-4.95,98.9],[-4.7,98],[-4.5,96.5],[-4.35,93.8],[-4.22,89.5],[-4.12,85.6],[-4.06,84.5],[-3.98,85.6],[-3.88,89.5],[-3.75,93],[-3.6,95.4],[-3.4,97.2],[-3.15,98.4],[-2.85,99.2],[-2.5,99.6],[-2.1,99.75],[-1.7,99.7],[-1.4,99.3],[-1.2,98.6],[-1.02,96.9],[-0.88,94.4],[-0.76,92.1],[-0.66,90.9],[-0.56,92.1],[-0.45,94.6],[-0.32,96.8],[-0.15,98.4],[0.1,99.2],[0.4,99.6],[0.8,99.7],[1.1,99.3],[1.3,98.3],[1.5,96.5],[1.65,94.2],[1.78,92],[1.86,91.2],[1.95,92],[2.08,94.2],[2.25,96.7],[2.5,98.6],[2.8,99.4],[3.2,99.75],[3.7,99.7],[4,99.4],[4.3,98.6],[4.55,97.3],[4.75,95.5],[4.95,92.8],[5.1,89],[5.2,86],[5.26,84.5],[5.33,86],[5.43,89.5],[5.55,93.2],[5.7,96],[5.9,98],[6.2,99.2],[6.55,99.6],[6.9,99.5],[7.2,98.9],[7.5,97.4],[7.75,95],[7.95,91.3],[8.1,87.6],[8.22,83.6],[8.31,80.6],[8.37,79.7],[8.43,81],[8.52,84.6],[8.62,88.5],[8.75,92.2],[8.9,95],[9.1,97.2],[9.35,98.7],[9.7,99.5],[10.2,99.85],[12,99.9]];
const lepiD = [[-12,100.06],[-9,100.04],[-8.2,99.9],[-7.75,99.6],[-7.4,99],[-7.2,98.4],[-6.95,97.66],[-6.7,98.4],[-6.5,99],[-6.15,99.6],[-5.7,99.9],[-5.4,100],[-4.6,99.9],[-4.4,99.7],[-4.1,99],[-3.95,98.4],[-3.8,97.86],[-3.65,98.4],[-3.5,99],[-3.2,99.6],[-2.7,99.95],[-1.8,100],[-1.3,99.85],[-1,99.5],[-0.82,99.1],[-0.66,98.56],[-0.5,99.1],[-0.32,99.5],[0,99.85],[0.5,99.98],[1,99.85],[1.32,99.5],[1.5,99.1],[1.66,98.56],[1.82,99.1],[2,99.5],[2.35,99.85],[3,100],[3.9,99.9],[4.2,99.7],[4.5,99],[4.66,98.4],[4.81,97.86],[4.96,98.4],[5.12,99],[5.45,99.6],[5.95,99.9],[6.8,99.95],[7.2,99.7],[7.5,99],[7.66,98.4],[7.82,97.56],[8,98.4],[8.2,99.1],[8.6,99.7],[9.2,99.95],[12,100.06]];

// legend labels and colours
const legendaA = [['Experimental','bola'],['Modeled','#000000',3],['Fe(II)-LS-Tet, 72%','#9BBB59',3],['Fe(II)-B, 19%','#C00000',3],['Fe(II)-C, 10%','#0070C0',3]];
const legendaB = [['Experimental','bola'],['Modeled','#000000',2],['Fe(II)-LS-Tet, 9%','#6FB536',3],['Site B Fe(II), 75%','#7E649E',3],['Site C Fe(III), 6%','#C0504D',2],['Ferrihydrite, 9%','#4A8FDB',3]];
const legendaC = [['Experimental','bola'],['Modeled','#000000',3],['Site B Fe(II), 22%','#57468A',3],['Site C Fe(III), 4%','#7A68A8',3],['Nanogoethite, 71%','#FF0000',3],['Lepidocrocite, 3%','#DD9C5A',3]];
const legendaD = [['Experimental','nada'],['Modeled','#000000',2],['Nanogoethtite, 84%','#FF0000',3],['Lepidocrocite, 16%','#ED7D31',3]];

function serie(pares){
    return pares.map(function(p){ return {x: p[0], y: p[1]}; });
}

function pontos(pares, raio, borda){
    return {data: serie(pares), showLine: false, pointRadius: raio, pointBorderWidth: borda,
        pointBorderColor: '#000', pointBackgroundColor: 'rgba(0,0,0,0)', clip: 8, order: 10};
}

function curva(pares, cor, largura, ordem){
    return {data: serie(pares), showLine: true, borderColor: cor, borderWidth: largura, pointRadius: 0,
        cubicInterpolationMode: 'monotone', fill: false, order: ordem};
}

const caixa = {
    id: 'caixa',
    beforeDatasetsDraw(chart, args, opts){
        const ctx = chart.ctx;
        const a = chart.chartArea;
        ctx.save();
        ctx.lineWidth = opts.largura;
        ctx.strokeStyle = opts.outros;
        ctx.beginPath();
        ctx.moveTo(a.left, a.top); ctx.lineTo(a.right, a.top); ctx.lineTo(a.right, a.bottom);
        ctx.stroke();
        ctx.strokeStyle = opts.esquerda;
        ctx.beginPath();
        ctx.moveTo(a.left, a.top); ctx.lineTo(a.left, a.bottom);
        ctx.stroke();
        ctx.strokeStyle = opts.base;
        ctx.lineWidth = opts.larguraBase;
        ctx.beginPath();
        ctx.moveTo(a.left - 1, a.bottom); ctx.lineTo(a.right + 1, a.bottom);
        ctx.stroke();
        ctx.restore();
    }
};

function grafico(id, datasets, c){
    return new Chart(document.getElementById(id), {
        type: 'scatter',
        data: {datasets: datasets},
        options: {
            responsive: false,
            animation: false,
            devicePixelRatio: 1,
            events: [],
            layout: {padding: c.pad},
            plugins: {
                legend: {display: false},
                tooltip: {enabled: false},
                caixa: c.caixa
            },
            scales: {
                x: {
                    type: 'linear', min: -12, max: 12,
                    ticks: {stepSize: c.passo, color: '#000', padding: c.tickPad, maxRotation: 0, autoSkip: false,
                        font: {family: 'Liberation Serif', size: 27}},
                    grid: {drawOnChartArea: false, drawTicks: true, tickLength: 8, color: c.corTick, lineWidth: 1.5},
                    border: {display: false},
                    title: {display: true, text: 'Velocity (mm/s)', color: '#000',
                        font: {family: 'Liberation Serif', size: 28, weight: 'bold', lineHeight: 1},
                        padding: {top: 0, bottom: c.tituloPad}},
                    afterFit: function(s){ s.height = c.alturaEixo; }
                },
                y: {display: false, min: c.yMin, max: c.yMax}
            }
        },
        plugins: [caixa]
    });
}

const caixaPreta = {largura: 1.5, outros: '#000', esquerda: '#000', base: '#000', larguraBase: 2};

grafico('graficoA', [
    pontos(expA, 4.8, 1.1),
    curva(modA, '#000000', 2.5, 5),
    curva(lsTetA, '#9BBB59', 2.5, 4),
    curva(fe2bA, '#C00000', 2.5, 3),
    curva(fe2cA, '#0070C0', 2.5, 2)
], {pad: {left: 28, right: 36, top: 9, bottom: 0}, alturaEixo: 83, tickPad: 11, tituloPad: 7, passo: 3,
    corTick: '#000', yMin: 77.4, yMax: 104.16, caixa: caixaPreta});

grafico('graficoB', [
    pontos(expB, 4, 1.7),
    curva(modB, '#000000', 2, 5),
    curva(lsTetB, '#6FB536', 2.5, 4),
    curva(siteBB, '#7E649E', 2.5, 3),
    curva(siteCB, '#C0504D', 1.5, 2),
    curva(ferriB, '#4A8FDB', 2.5, 1)
], {pad: {left: 29, right: 31, top: 10, bottom: 0}, alturaEixo: 79, tickPad: 11, tituloPad: 6, passo: 3,
    corTick: '#000', yMin: 76.9, yMax: 103.7, caixa: caixaPreta});

grafico('graficoC', [
    pontos(expC, 4, 1.6),
    curva(modC, '#000000', 2, 5),
    curva(siteBC, '#57468A', 2, 4),
    curva(siteCC, '#7A68A8', 2, 3),
    curva(goetC, '#FF0000', 2.5, 2),
    curva(lepiC, '#DD9C5A', 2, 1)
], {pad: {left: 28, right: 36, top: 6, bottom: 0}, alturaEixo: 70, tickPad: 9, tituloPad: 1, passo: 3,
    corTick: '#000', yMin: 74.6, yMax: 101.8, caixa: caixaPreta});

grafico('graficoD', [
    pontos(expD, 3.2, 1.7),
    curva(modD, '#000000', 2, 5),
    curva(goetD, '#FF0000', 2.5, 4),
    curva(lepiD, '#ED7D31', 2.5, 3)
], {pad: {left: 37, right: 15, top: 8, bottom: 0}, alturaEixo: 79, tickPad: 13, tituloPad: 1, passo: 2,
    corTick: '#8C8C8C', yMin: 74.86, yMax: 101.66,
    caixa: {largura: 1.3, outros: '#555555', esquerda: '#222', base: '#8C8C8C', larguraBase: 2.5}});

// legends and panel letters drawn as html text over the canvases
const pagina = document.getElementById('pagina');

function colocar(classe, estilo, texto){
    var el = document.createElement('div');
    el.className = classe;
    el.style.cssText = estilo;
    if (texto) el.textContent = texto;
    pagina.appendChild(el);
}

function desenharLegenda(itens, cfg){
    itens.forEach(function(item, i){
        var y = cfg.linhas[i];
        if (item[1] === 'bola'){
            colocar('bola', 'left:' + cfg.xBola + 'px;top:' + y + 'px;width:' + cfg.bola + 'px;height:' + cfg.bola + 'px;');
        } else if (item[1] !== 'nada'){
            colocar('traco', 'left:' + cfg.x0 + 'px;top:' + y + 'px;width:' + (cfg.x1 - cfg.x0) + 'px;height:' + item[2] + 'px;background:' + item[1] + ';');
        }
        colocar('txt', 'left:' + cfg.xTexto + 'px;top:' + y + 'px;', item[0]);
    });
    colocar('txt', 'left:' + cfg.letra[0] + 'px;top:' + cfg.letra[1] + 'px;', cfg.letra[2]);
}

desenharLegenda(legendaA, {linhas: [305, 357, 412, 465, 518], x0: 33, x1: 86, xTexto: 90, xBola: 59, bola: 12, letra: [447, 502, 'a.']});
desenharLegenda(legendaB, {linhas: [351, 388, 423, 460, 495, 531], x0: 625, x1: 678, xTexto: 683, xBola: 651, bola: 10, letra: [1063, 503, 'b.']});
desenharLegenda(legendaC, {linhas: [989, 1019, 1049, 1080, 1110, 1139], x0: 183, x1: 236, xTexto: 240, xBola: 209, bola: 10, letra: [482, 1113, 'c.']});
desenharLegenda(legendaD, {linhas: [981, 1025, 1068, 1111], x0: 761, x1: 815, xTexto: 819, xBola: 0, bola: 0, letra: [1076, 1100, 'd.']});
</script>
</body>
</html>
